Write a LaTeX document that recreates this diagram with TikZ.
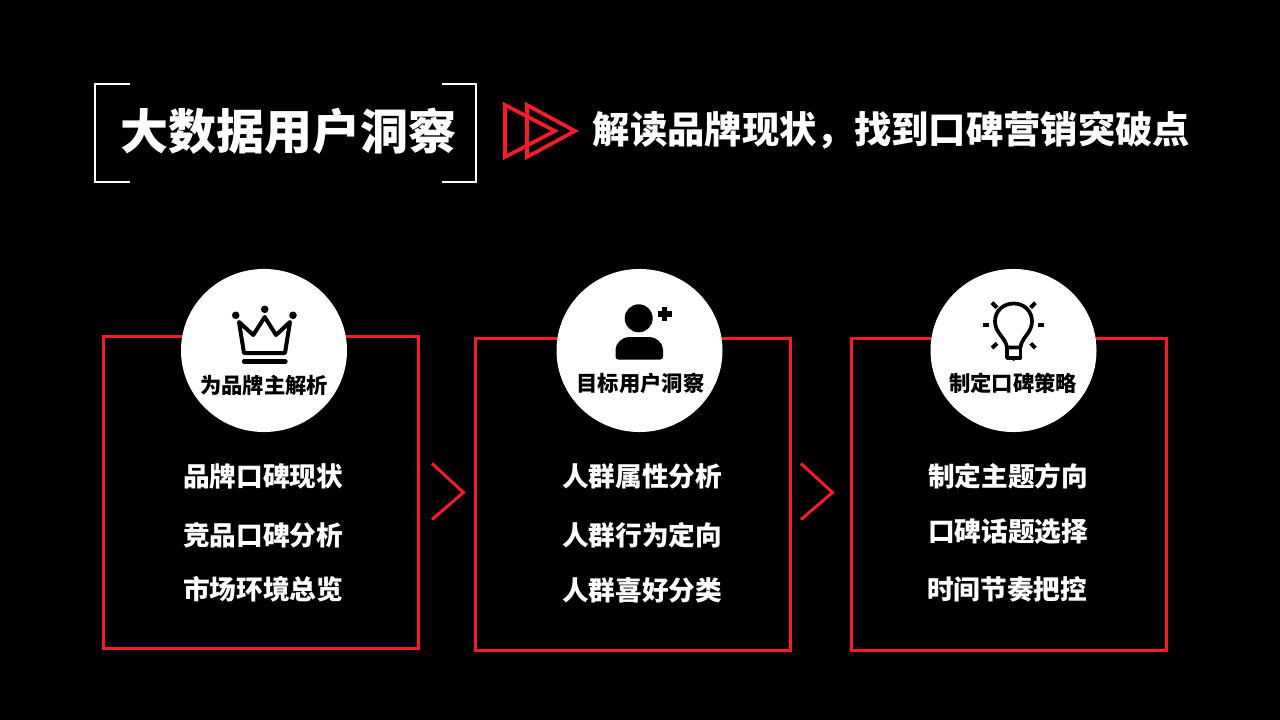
\documentclass[tikz,border=0pt]{standalone}
\usepackage{fontspec}
\setmainfont{Noto Sans CJK SC}
\usetikzlibrary{positioning}
\usetikzlibrary{calc}
\usetikzlibrary{shapes.geometric}
\definecolor{panelred}{RGB}{248,28,42}
\tikzstyle{panel} = [draw=panelred, rectangle, line width=2.25pt, minimum width=236.25pt, minimum height=234pt]
\tikzstyle{disc} = [fill=white, ellipse, minimum width=124.5pt, minimum height=122.3pt, inner sep=0pt]
\tikzstyle{heading} = [text=white, font=\bfseries\fontsize{36}{36}\selectfont, inner sep=0pt]
\tikzstyle{subheading} = [text=white, font=\bfseries\fontsize{28}{28}\selectfont, inner sep=0pt]
\tikzstyle{disclabel} = [text=black, font=\bfseries\fontsize{16}{16}\selectfont, inner sep=0pt]
\tikzstyle{item} = [text=white, font=\bfseries\fontsize{20}{20}\selectfont, inner sep=0pt]
\tikzstyle{chevron} = [draw=panelred, line width=2.2pt]
\tikzstyle{playmark} = [draw=panelred, line width=2.8pt, line join=miter]
\tikzstyle{corner} = [draw=white, line width=1.3pt]
\tikzstyle{icon} = [draw=black, line width=3pt, line join=round]
\begin{document}
\begin{tikzpicture}[x=0.75pt,y=-0.75pt]
    \fill [black] (0,0) rectangle (1280,720);
    \useasboundingbox (0,0) rectangle (1280,720);

    % header
    \node [heading] (title) at (288,131) {大数据用户洞察};
    \node [subheading] (subtitle) at (891.5,130) {解读品牌现状，找到口碑营销突破点};
    \draw [corner] (130,84) -- (95,84) -- (95,182) -- (130,182);
    \draw [corner] (442,84) -- (476,84) -- (476,182) -- (442,182);
    \draw [playmark] (505,105) -- (555,131) -- (505,157) -- cycle;
    \draw [playmark] (527,105) -- (575,131) -- (527,157) -- cycle;

    % panels
    \node [panel] (brandbox) at (260.5,492) {};
    \node [panel] (userbox) at (633,494) {};
    \node [panel] (planbox) at (1008.5,494) {};
    \node [disc] (brandcirc) at (264,350.5) {};
    \node [disc] (usercirc) at (639.5,350.5) {};
    \node [disc] (plancirc) at (1013.5,350.5) {};
    \node [disclabel] (brandlabel) at (264,385) {为品牌主解析};
    \node [disclabel] (userlabel) at (640.5,383) {目标用户洞察};
    \node [disclabel] (planlabel) at (1013,383) {制定口碑策略};

    \node [item] (brandone) at (263,476) {品牌口碑现状};
    \node [item] (brandtwo) at (263,535) {竞品口碑分析};
    \node [item] (brandthree) at (263,589) {市场环境总览};
    \node [item] (userone) at (642,476) {人群属性分析};
    \node [item] (usertwo) at (642,535) {人群行为定向};
    \node [item] (userthree) at (642,590) {人群喜好分类};
    \node [item] (planone) at (1008,476) {制定主题方向};
    \node [item] (plantwo) at (1008,532) {口碑话题选择};
    \node [item] (planthree) at (1007,589) {时间节奏把控};

    \draw [chevron] (432,463.5) -- (463.5,492.5) -- (432,519.5);
    \draw [chevron] (801,463.5) -- (832.5,492.5) -- (801,519.5);

    % crown
    \draw [icon] (239,322) -- (244,353) -- (285,353) -- (290,322) -- (276,335) -- (264.7,317) -- (253.3,335) -- cycle;
    \draw [icon,line width=3.2pt,line cap=round] (244,361.5) -- (285.5,361.5);
    \fill (235.7,315.3) circle (3.8);
    \fill (264.7,309.3) circle (3.8);
    \fill (293,315.3) circle (3.8);

    % person
    \fill (638.7,318.3) circle (14);
    \fill [rounded corners=2pt] (615.5,359.5) -- (615.5,352) .. controls (615.5,343) and (623,337) .. (631,337) -- (647,337) .. controls (656,337) and (663,343) .. (663,352) -- (663,359.5) -- cycle;
    \draw [icon,line width=3.8pt] (657.5,314) -- (672,314);
    \draw [icon,line width=3.8pt] (664.7,306.7) -- (664.7,321.3);

    % bulb
    \draw [icon,line width=2.8pt] (1007,347.5) .. controls (1006,338) and (995,333) .. (995,321.5) .. controls (995,311) and (1003,303.5) .. (1013.7,303.5) .. controls (1024,303.5) and (1032,311) .. (1032,321.5) .. controls (1032,333) and (1021,338) .. (1020.5,347.5) -- cycle;
    \draw [icon,line width=2.8pt] (1007,347.5) -- (1007,358) -- (1020.5,358) -- (1020.5,347.5);
    \fill (1010,358) -- (1017.5,358) -- (1013.7,361) -- cycle;
    \draw [icon] (983.3,325) -- (989.3,325);
    \draw [icon] (1038,325) -- (1044,325);
    \draw [icon] (992,302.7) -- (997,307.7);
    \draw [icon] (1035.3,302.7) -- (1030.7,307.7);
    \draw [icon] (992,348) -- (997,343.3);
    \draw [icon] (1035.3,348) -- (1030.7,343.3);
\end{tikzpicture}
\end{document}
